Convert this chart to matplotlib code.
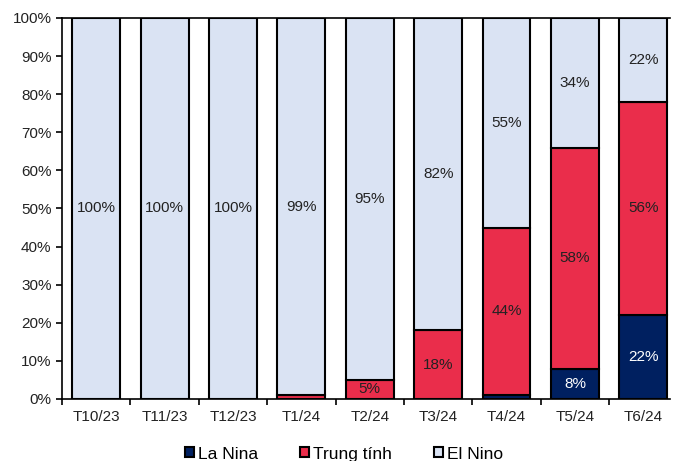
import numpy as np
import matplotlib.pyplot as plt

plt.rcParams["font.family"] = ["Liberation Sans", "DejaVu Sans"]

months = ["T10/23", "T11/23", "T12/23", "T1/24", "T2/24", "T3/24", "T4/24", "T5/24", "T6/24"]
la_nina = [0, 0, 0, 0, 0, 0, 1, 8, 22]
trung_tinh = [0, 0, 0, 1, 5, 18, 44, 58, 56]
el_nino = [100, 100, 100, 99, 95, 82, 55, 34, 22]

c_nina = "#002060"
c_trung = "#EA2D4B"
c_nino = "#DAE3F3"

fig = plt.figure(figsize=(6.77, 4.61), dpi=100)
ax = fig.add_axes([0.0916, 0.1345, 0.898, 0.8265])

x = np.arange(len(months))
w = 0.7
la = np.array(la_nina)
tr = np.array(trung_tinh)
el = np.array(el_nino)

b1 = ax.bar(x, la, w, color=c_nina, edgecolor="black", linewidth=1.5, label="La Nina")
b2 = ax.bar(x, tr, w, bottom=la, color=c_trung, edgecolor="black", linewidth=1.5, label="Trung tính")
b3 = ax.bar(x, el, w, bottom=la + tr, color=c_nino, edgecolor="black", linewidth=1.5, label="El Nino")

# value labels, skip tiny segments
for i in range(len(months)):
    if la[i] >= 5:
        ax.text(x[i], la[i] / 2, f"{la[i]}%", ha="center", va="center", fontsize=11, color="white")
    if tr[i] >= 5:
        ax.text(x[i], la[i] + tr[i] / 2, f"{tr[i]}%", ha="center", va="center", fontsize=11, color="#222222")
    if el[i] >= 5:
        ax.text(x[i], la[i] + tr[i] + el[i] / 2, f"{el[i]}%", ha="center", va="center", fontsize=11, color="#222222")

ax.set_ylim(0, 100)
ax.set_xlim(-0.5, 8.39)
ax.set_yticks(np.arange(0, 101, 10))
ax.set_yticklabels([f"{v}%" for v in range(0, 101, 10)], fontsize=11, color="#222222")

# category labels centered, tick marks between bars
ax.set_xticks(np.arange(-0.5, 8, 1.0))
ax.set_xticklabels([])
ax.set_xticks(x, minor=True)
ax.set_xticklabels(months, minor=True, fontsize=11, color="#222222")
ax.tick_params(axis="x", which="minor", length=0, pad=8)
ax.tick_params(axis="x", which="major", length=4, width=1.2, direction="out")
ax.tick_params(axis="y", length=4, width=1.2, direction="out")

for s in ["left", "bottom", "top"]:
    ax.spines[s].set_linewidth(1.2)
ax.spines["right"].set_visible(False)

fig.legend(handles=[b1, b2, b3], loc="lower center", bbox_to_anchor=(0.508, -0.035), ncol=3,
           frameon=False, fontsize=12.5, handlelength=0.52, handleheight=0.5,
           handletextpad=0.25, columnspacing=2.4)

fig.savefig("out.png", dpi=100)
